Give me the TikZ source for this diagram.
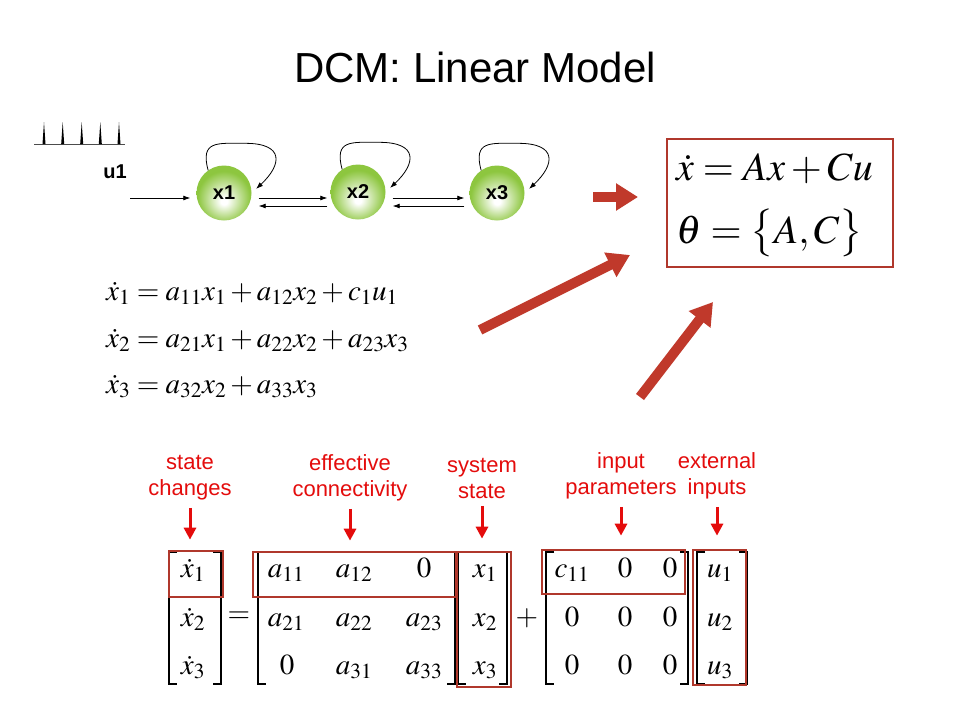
\documentclass[tikz,border=0pt]{standalone}
\usepackage{mathptmx}
\usepackage[no-math]{fontspec}
\setmainfont{Liberation Serif}
\setsansfont{Liberation Sans}
\usepackage{amsmath}
\usetikzlibrary{arrows.meta}

\definecolor{ballgreen}{RGB}{141,198,63}
\definecolor{boxred}{RGB}{176,56,44}
\definecolor{arrowred}{RGB}{192,57,43}
\definecolor{labelred}{RGB}{228,12,12}

\pgfdeclareradialshading{greenball}{\pgfpoint{0bp}{-8bp}}{color(0bp)=(white); color(3bp)=(white); color(24bp)=(ballgreen); color(50bp)=(ballgreen)}

\begin{document}
\begin{tikzpicture}[x=1pt, y=-1pt, font=\sffamily]
	\tikzset{ball/.style = {shape=circle, shade, shading=greenball, minimum size=55pt, inner sep=0pt, font=\sffamily\bfseries\fontsize{20}{22}\selectfont},
		thinarrow/.style = {-{Latex[length=7pt,width=5pt]}, line width=0.8pt},
		bigarrow/.style = {arrowred, line width=10pt, -{Triangle[length=22pt,width=26pt]}},
		pointer/.style = {labelred, line width=3pt, -{Triangle[length=12pt,width=12pt]}},
		note/.style = {labelred, align=center, font=\sffamily\fontsize{22}{26}\selectfont},
		redbox/.style = {draw=boxred, line width=2.7pt, inner sep=0pt},
		bracket/.style = {line width=1.8pt},
		entry/.style = {anchor=base, inner sep=0pt, font=\fontsize{29}{32}\selectfont},
		eqn/.style = {anchor=base west, inner sep=0pt, font=\fontsize{29}{32}\selectfont}}
	
	\fill[white] (0,0) rectangle (960,720);
	\useasboundingbox (0,0) rectangle (960,720);
	
	\node[font=\sffamily\fontsize{42}{48}\selectfont] (title) at (475,67) {DCM: Linear Model};
	
	% input spikes
	\draw[line width=0.8pt, black!70] (34,144) -- (125,144);
	\foreach \s in {44,62.7,81.7,100.3,119}
		\fill (\s-1.5,144) -- (\s,122) -- (\s+1.5,144) -- cycle;
	\node[font=\sffamily\bfseries\fontsize{20}{22}\selectfont] (label_u1) at (115,172) {u1};
	
	\node[ball] (x1) at (224,193) {x1};
	\node[ball] (x2) at (358,192) {x2};
	\node[ball] (x3) at (497,193) {x3};
	
	\coordinate (u1in) at (130,198);
	\draw[thinarrow] (u1in) -- ([shift={(-6,5)}]x1.west);
	\draw[thinarrow] ([shift={(7,5)}]x1.east) -- ([shift={(-3,6)}]x2.west);
	\draw[thinarrow] ([shift={(-3,14)}]x2.west) -- ([shift={(7,13)}]x1.east);
	\draw[thinarrow] ([shift={(7,6)}]x2.east) -- ([shift={(-5,5)}]x3.west);
	\draw[thinarrow] ([shift={(-5,13)}]x3.west) -- ([shift={(7,14)}]x2.east);
	\foreach \n in {x1,x2,x3}
		\draw[thinarrow, shorten >=6pt] (\n.125) .. controls +(-8,-30) and +(-28,0) .. ++(37,-27)
			.. controls +(40,0) and +(30,-28) .. (\n.0);
	
	% model box
	\node[redbox, minimum width=226pt, minimum height=128pt] (model) at (780,203) {};
	\node[anchor=base west, inner sep=0pt, font=\fontsize{40}{48}\selectfont] (eq_model) at (676,180) {$\dot{x} = Ax + Cu$};
	\node[anchor=base west, inner sep=0pt, font=\fontsize{40}{60}\selectfont] (eq_theta) at (676,243) {$\theta = \big\{A, C\big\}$};
	
	\coordinate (arr1s) at (593,197);
	\coordinate (arr1e) at (638,197);
	\coordinate (arr2s) at (480,330);
	\coordinate (arr2e) at (630,255);
	\coordinate (arr3s) at (640,397);
	\coordinate (arr3e) at (713,302);
	\draw[bigarrow] (arr1s) -- (arr1e);
	\draw[bigarrow] (arr2s) -- (arr2e);
	\draw[bigarrow] (arr3s) -- (arr3e);
	
	\node[eqn] (eq_x1) at (106,300) {$\dot{x}_1 = a_{11}x_1 + a_{12}x_2 + c_1u_1$};
	\node[eqn] (eq_x2) at (106,347) {$\dot{x}_2 = a_{21}x_1 + a_{22}x_2 + a_{23}x_3$};
	\node[eqn] (eq_x3) at (106,393) {$\dot{x}_3 = a_{32}x_2 + a_{33}x_3$};
	
	% matrix form
	\foreach \l/\r in {169/221, 258/455, 458/507, 546/688, 697/747} {
		\draw[bracket] (\l+8,552) -- (\l,552) -- (\l,684) -- (\l+8,684);
		\draw[bracket] (\r-8,552) -- (\r,552) -- (\r,684) -- (\r-8,684);
	}
	\foreach \cy/\i in {577/1, 626/2, 674/3} {
		\node[entry] (dx\i) at (193,\cy) {$\dot{x}_\i$};
		\node[entry] (x\i v) at (485,\cy) {$x_\i$};
		\node[entry] (u\i) at (720,\cy) {$u_\i$};
	}
	\node[entry] (a11) at (286,577) {$a_{11}$};
	\node[entry] (a12) at (354,577) {$a_{12}$};
	\node[entry] (a13) at (424,577) {$0$};
	\node[entry] (a21) at (286,626) {$a_{21}$};
	\node[entry] (a22) at (354,626) {$a_{22}$};
	\node[entry] (a23) at (424,626) {$a_{23}$};
	\node[entry] (a31) at (287,674) {$0$};
	\node[entry] (a32) at (354,674) {$a_{31}$};
	\node[entry] (a33) at (424,674) {$a_{33}$};
	\node[entry] (c11) at (572,577) {$c_{11}$};
	\node[entry] (c12) at (625,577) {$0$};
	\node[entry] (c13) at (670,577) {$0$};
	\foreach \cy/\i in {626/2, 674/3}
		\foreach \cx/\j in {572/1, 625/2, 670/3}
			\node[entry] (c\i\j) at (\cx,\cy) {$0$};
	\node[font=\fontsize{29}{32}\selectfont] (eq_sign) at (239,617) {$=$};
	\node[font=\fontsize{29}{32}\selectfont] (plus_sign) at (527,618) {$+$};
	
	\node[redbox, minimum width=54pt, minimum height=46pt] (box_dx) at (196,574) {};
	\node[redbox, minimum width=203pt, minimum height=45pt] (box_A) at (354.5,574.5) {};
	\node[redbox, minimum width=54pt, minimum height=135pt] (box_x) at (484,619.5) {};
	\node[redbox, minimum width=143pt, minimum height=44pt] (box_C) at (613.5,572) {};
	\node[redbox, minimum width=53pt, minimum height=135pt] (box_u) at (719.5,617.5) {};
	
	\node[note] (label_dx) at (190,478) {state\\changes};
	\node[note] (label_A) at (350,478) {effective\\connectivity};
	\node[note] (label_x) at (482,478) {system\\state};
	\node[note] (label_C) at (621,476) {input\\parameters};
	\node[note] (label_u) at (717,476) {external\\inputs};
	
	\draw[pointer, shorten <=4pt, shorten >=10pt] (label_dx.south) -- (label_dx.south |- box_dx.north);
	\draw[pointer, shorten <=4pt, shorten >=10pt] (label_A.south) -- (label_A.south |- box_A.north);
	\draw[pointer, shorten <=4pt, shorten >=12pt] (label_x.south) -- (label_x.south |- box_x.north);
	\draw[pointer, shorten <=4pt, shorten >=13pt] (label_C.south) -- (label_C.south |- box_C.north);
	\draw[pointer, shorten <=4pt, shorten >=13pt] (label_u.south) -- (label_u.south |- box_u.north);
\end{tikzpicture}
\end{document}
